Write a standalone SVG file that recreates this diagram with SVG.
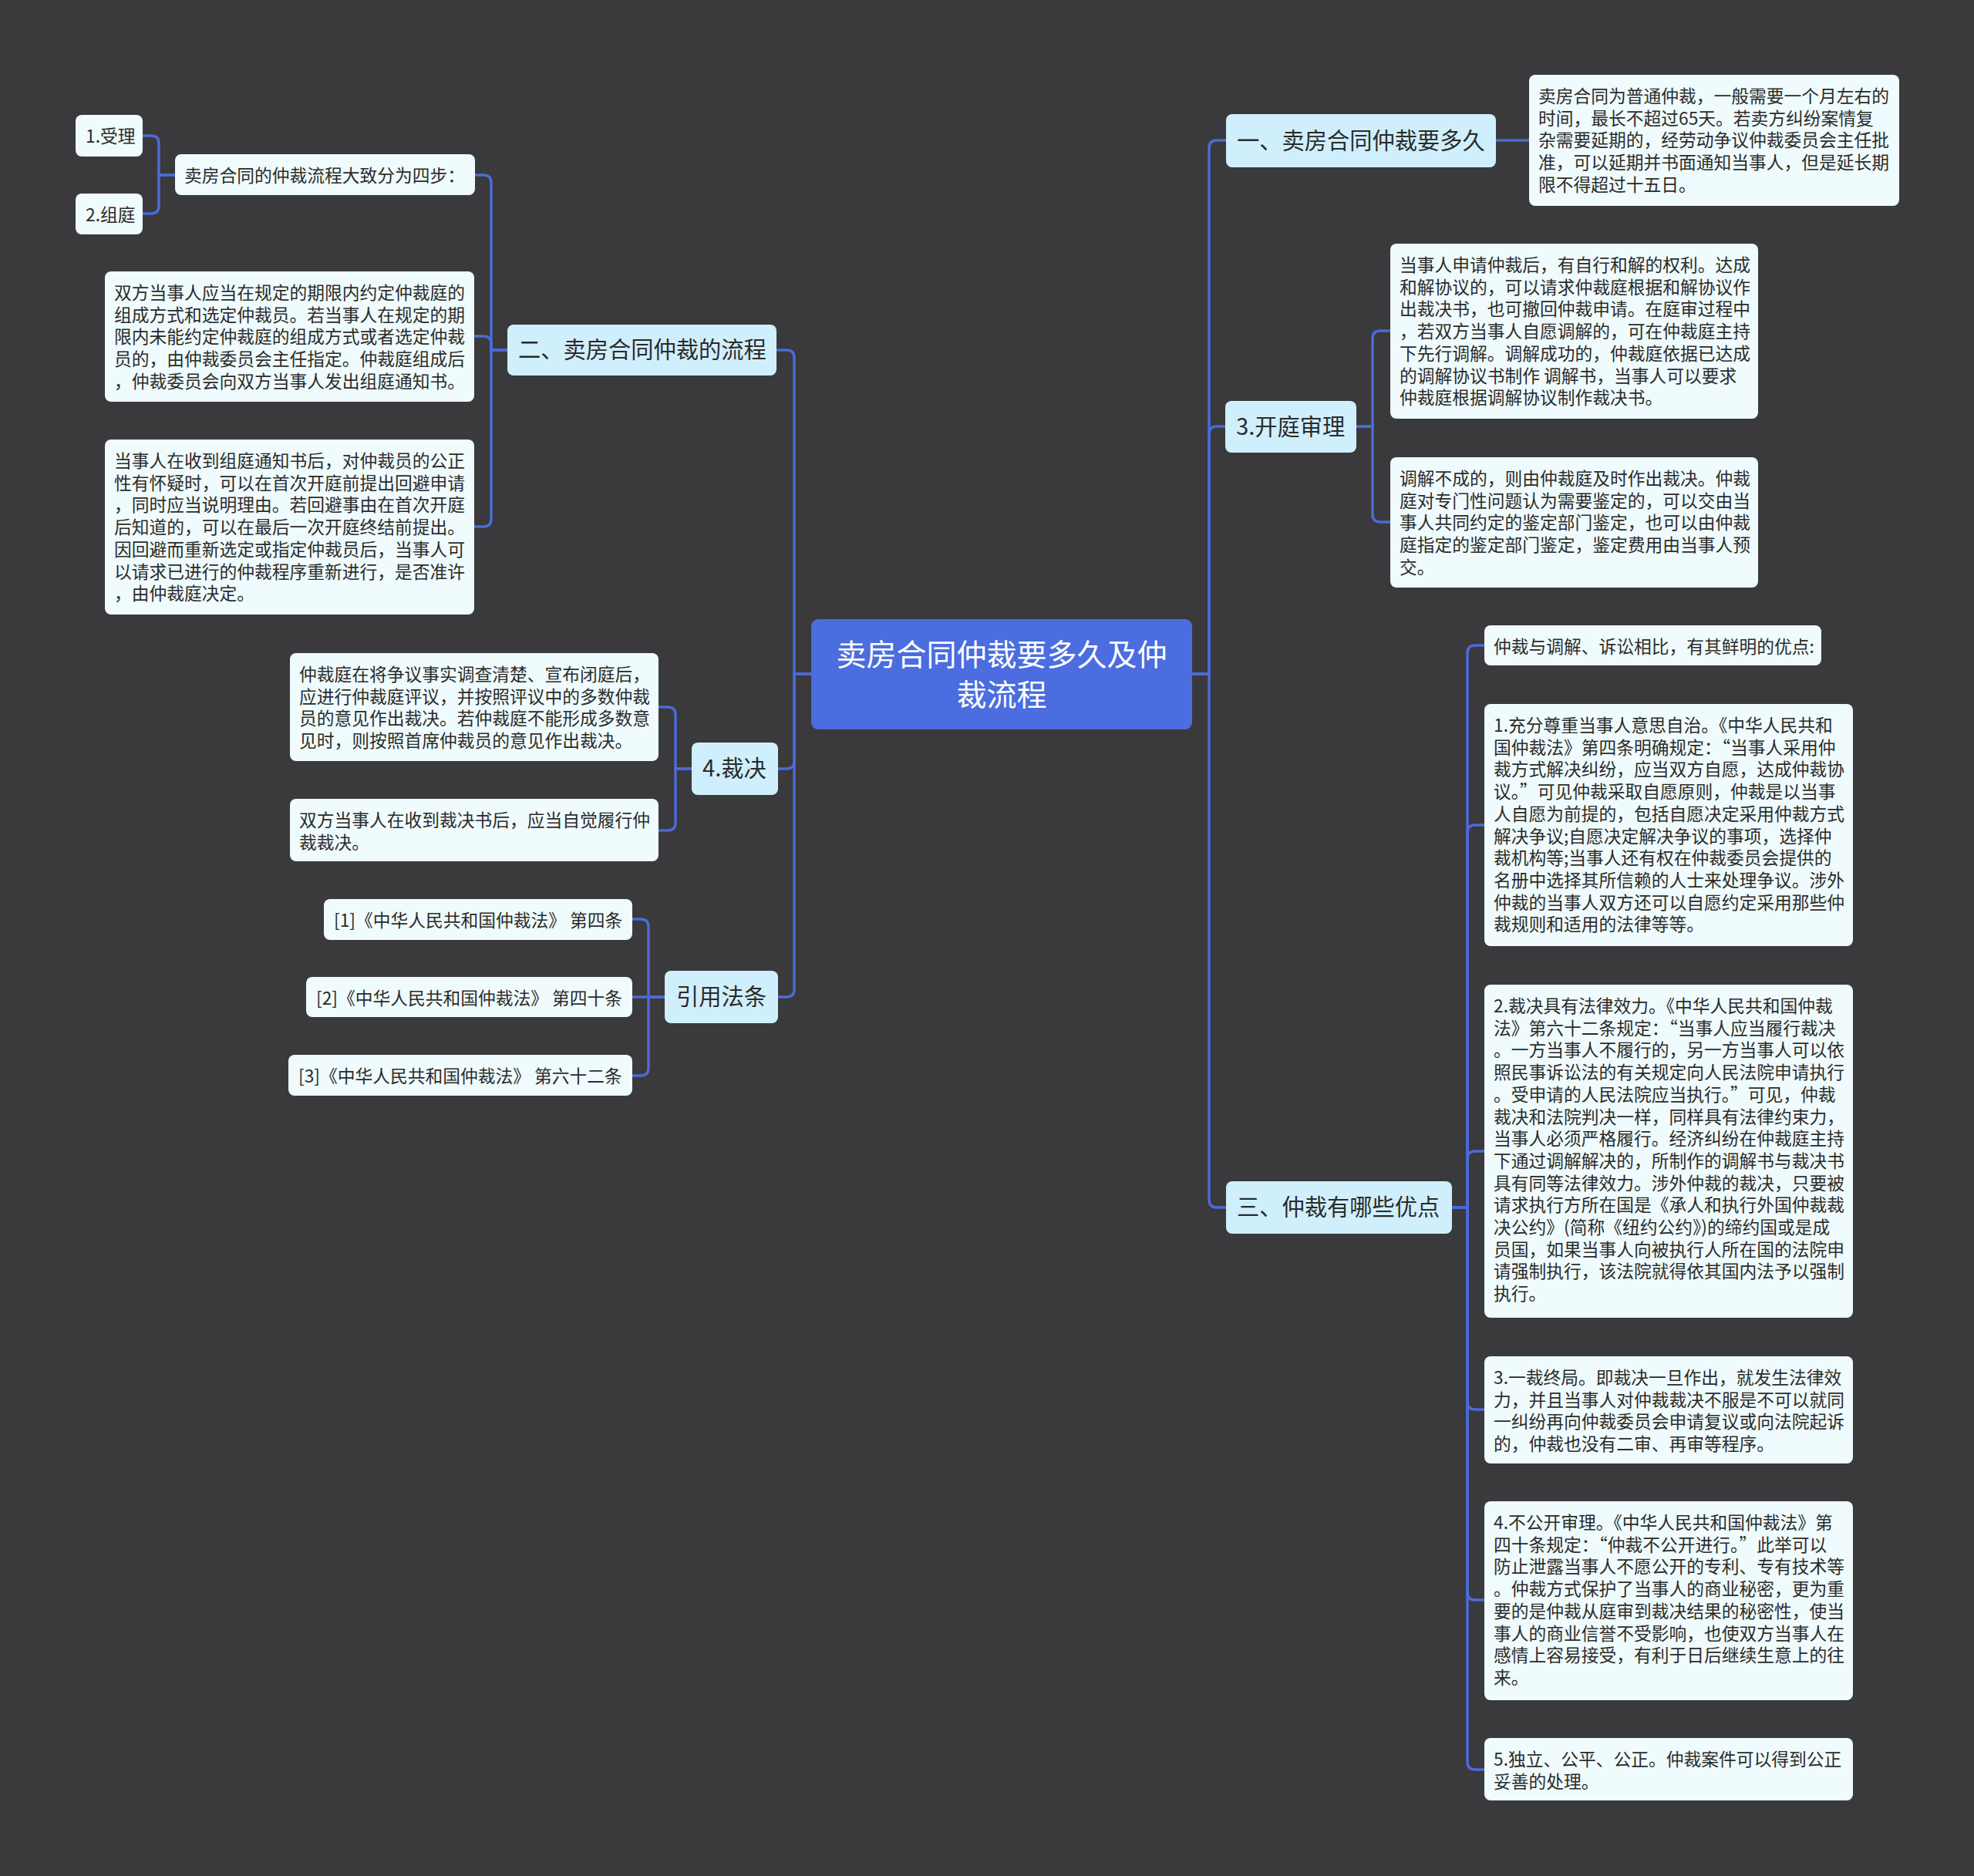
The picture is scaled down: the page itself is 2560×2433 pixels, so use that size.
<svg xmlns="http://www.w3.org/2000/svg" width="2560" height="2433" viewBox="0 0 2560 2433">
<style>
.bg{fill:#3a393b}
.root{fill:#4b6ddf}
.l1{fill:#d0effc}
.lf{fill:#effbfc}
.c{fill:none;stroke:#4c6bd6;stroke-width:3.5;stroke-linecap:round}
text{font-family:"Noto Sans CJK SC","Noto Sans",sans-serif;fill:#2b2b2b}
.rt{font-size:39px;fill:#ffffff;text-anchor:middle}
.t1{font-size:29.25px}
.t{font-size:22.75px}
</style>
<rect class="bg" x="0" y="0" width="2560" height="2433"/>
<g id="connectors">
<path class="c" d="M1052 874 H1030 V464 Q1030 454 1020 454 H1007"/>
<path class="c" d="M1052 874 H1030 V987 Q1030 997 1020 997 H1009"/>
<path class="c" d="M1052 874 H1030 V1283 Q1030 1293 1020 1293 H1009"/>
<path class="c" d="M1546 874 H1568 V192 Q1568 182 1578 182 H1590"/>
<path class="c" d="M1546 874 H1568 V563 Q1568 553 1578 553 H1589"/>
<path class="c" d="M1546 874 H1568 V1556 Q1568 1566 1578 1566 H1590"/>
<path class="c" d="M658 454 H637 V237 Q637 227 627 227 H616"/>
<path class="c" d="M658 454 H637 V446 Q637 436 627 436 H615"/>
<path class="c" d="M658 454 H637 V673 Q637 683 627 683 H615"/>
<path class="c" d="M227 227 H206 V186 Q206 176 196 176 H185"/>
<path class="c" d="M227 227 H206 V267 Q206 277 196 277 H185"/>
<path class="c" d="M897 997 H876 V927 Q876 917 866 917 H854"/>
<path class="c" d="M897 997 H876 V1067 Q876 1077 866 1077 H854"/>
<path class="c" d="M862 1293 H841 V1202 Q841 1192 831 1192 H820"/>
<path class="c" d="M862 1293 H820"/>
<path class="c" d="M862 1293 H841 V1385 Q841 1395 831 1395 H820"/>
<path class="c" d="M1940 182 H1983"/>
<path class="c" d="M1759 553 H1780 V439 Q1780 429 1790 429 H1803"/>
<path class="c" d="M1759 553 H1780 V667 Q1780 677 1790 677 H1803"/>
<path class="c" d="M1883 1566 H1903 V847 Q1903 837 1913 837 H1925"/>
<path class="c" d="M1883 1566 H1903 V1080 Q1903 1070 1913 1070 H1925"/>
<path class="c" d="M1883 1566 H1903 V1503 Q1903 1493 1913 1493 H1925"/>
<path class="c" d="M1883 1566 H1903 V1818 Q1903 1828 1913 1828 H1925"/>
<path class="c" d="M1883 1566 H1903 V2065 Q1903 2075 1913 2075 H1925"/>
<path class="c" d="M1883 1566 H1903 V2285 Q1903 2295 1913 2295 H1925"/>
</g>
<g id="root">
<rect class="root" x="1052" y="803" width="494" height="143" rx="9"/>
<text class="rt" x="1299" y="863">卖房合同仲裁要多久及仲</text>
<text class="rt" x="1299" y="915">裁流程</text>
</g>
<g id="n-er">
<rect class="l1" x="658" y="421" width="349" height="66" rx="8"/>
<text class="t1" x="672" y="464">二、卖房合同仲裁的流程</text>
</g>
<g id="n-sibu">
<rect class="lf" x="227" y="200" width="389" height="53" rx="8"/>
<text class="t" x="239" y="236">卖房合同的仲裁流程大致分为四步：</text>
</g>
<g id="n-shouli">
<rect class="lf" x="98" y="149" width="87" height="54" rx="8"/>
<text class="t" x="111" y="185">1.受理</text>
</g>
<g id="n-zuting">
<rect class="lf" x="98" y="251" width="87" height="53" rx="8"/>
<text class="t" x="111" y="287">2.组庭</text>
</g>
<g id="n-a">
<rect class="lf" x="136" y="352" width="479" height="169" rx="8"/>
<text class="t" x="148" y="388"><tspan x="148">双方当事人应当在规定的期限内约定仲裁庭的</tspan><tspan x="148" dy="28.7">组成方式和选定仲裁员。若当事人在规定的期</tspan><tspan x="148" dy="28.7">限内未能约定仲裁庭的组成方式或者选定仲裁</tspan><tspan x="148" dy="28.7">员的，由仲裁委员会主任指定。仲裁庭组成后</tspan><tspan x="148" dy="28.7">，仲裁委员会向双方当事人发出组庭通知书。</tspan></text>
</g>
<g id="n-b">
<rect class="lf" x="136" y="570" width="479" height="227" rx="8"/>
<text class="t" x="148" y="606"><tspan x="148">当事人在收到组庭通知书后，对仲裁员的公正</tspan><tspan x="148" dy="28.7">性有怀疑时，可以在首次开庭前提出回避申请</tspan><tspan x="148" dy="28.7">，同时应当说明理由。若回避事由在首次开庭</tspan><tspan x="148" dy="28.7">后知道的，可以在最后一次开庭终结前提出。</tspan><tspan x="148" dy="28.7">因回避而重新选定或指定仲裁员后，当事人可</tspan><tspan x="148" dy="28.7">以请求已进行的仲裁程序重新进行，是否准许</tspan><tspan x="148" dy="28.7">，由仲裁庭决定。</tspan></text>
</g>
<g id="n-caijue">
<rect class="l1" x="897" y="963" width="112" height="68" rx="8"/>
<text class="t1" x="911" y="1007">4.裁决</text>
</g>
<g id="n-c">
<rect class="lf" x="376" y="847" width="478" height="140" rx="8"/>
<text class="t" x="388" y="883"><tspan x="388">仲裁庭在将争议事实调查清楚、宣布闭庭后，</tspan><tspan x="388" dy="28.7">应进行仲裁庭评议，并按照评议中的多数仲裁</tspan><tspan x="388" dy="28.7">员的意见作出裁决。若仲裁庭不能形成多数意</tspan><tspan x="388" dy="28.7">见时，则按照首席仲裁员的意见作出裁决。</tspan></text>
</g>
<g id="n-d">
<rect class="lf" x="376" y="1036" width="478" height="81" rx="8"/>
<text class="t" x="388" y="1072"><tspan x="388">双方当事人在收到裁决书后，应当自觉履行仲</tspan><tspan x="388" dy="28.7">裁裁决。</tspan></text>
</g>
<g id="n-yinyong">
<rect class="l1" x="862" y="1259" width="147" height="68" rx="8"/>
<text class="t1" x="877" y="1303">引用法条</text>
</g>
<g id="n-f1">
<rect class="lf" x="420" y="1166" width="400" height="53" rx="8"/>
<text class="t" x="433" y="1202">[1]《中华人民共和国仲裁法》 第四条</text>
</g>
<g id="n-f2">
<rect class="lf" x="397" y="1267" width="423" height="52" rx="8"/>
<text class="t" x="410" y="1303">[2]《中华人民共和国仲裁法》 第四十条</text>
</g>
<g id="n-f3">
<rect class="lf" x="374" y="1368" width="446" height="53" rx="8"/>
<text class="t" x="387" y="1404">[3]《中华人民共和国仲裁法》 第六十二条</text>
</g>
<g id="n-yi">
<rect class="l1" x="1590" y="148" width="350" height="69" rx="8"/>
<text class="t1" x="1604" y="193">一、卖房合同仲裁要多久</text>
</g>
<g id="n-yi-t">
<rect class="lf" x="1983" y="97" width="480" height="170" rx="8"/>
<text class="t" x="1995" y="133"><tspan x="1995">卖房合同为普通仲裁，一般需要一个月左右的</tspan><tspan x="1995" dy="28.7">时间，最长不超过65天。若卖方纠纷案情复</tspan><tspan x="1995" dy="28.7">杂需要延期的，经劳动争议仲裁委员会主任批</tspan><tspan x="1995" dy="28.7">准，可以延期并书面通知当事人，但是延长期</tspan><tspan x="1995" dy="28.7">限不得超过十五日。</tspan></text>
</g>
<g id="n-kaiting">
<rect class="l1" x="1589" y="520" width="170" height="67" rx="8"/>
<text class="t1" x="1603" y="564">3.开庭审理</text>
</g>
<g id="n-e">
<rect class="lf" x="1803" y="316" width="477" height="227" rx="8"/>
<text class="t" x="1815" y="352"><tspan x="1815">当事人申请仲裁后，有自行和解的权利。达成</tspan><tspan x="1815" dy="28.7">和解协议的，可以请求仲裁庭根据和解协议作</tspan><tspan x="1815" dy="28.7">出裁决书，也可撤回仲裁申请。在庭审过程中</tspan><tspan x="1815" dy="28.7">，若双方当事人自愿调解的，可在仲裁庭主持</tspan><tspan x="1815" dy="28.7">下先行调解。调解成功的，仲裁庭依据已达成</tspan><tspan x="1815" dy="28.7">的调解协议书制作 调解书，当事人可以要求</tspan><tspan x="1815" dy="28.7">仲裁庭根据调解协议制作裁决书。</tspan></text>
</g>
<g id="n-f">
<rect class="lf" x="1803" y="593" width="477" height="169" rx="8"/>
<text class="t" x="1815" y="629"><tspan x="1815">调解不成的，则由仲裁庭及时作出裁决。仲裁</tspan><tspan x="1815" dy="28.7">庭对专门性问题认为需要鉴定的，可以交由当</tspan><tspan x="1815" dy="28.7">事人共同约定的鉴定部门鉴定，也可以由仲裁</tspan><tspan x="1815" dy="28.7">庭指定的鉴定部门鉴定，鉴定费用由当事人预</tspan><tspan x="1815" dy="28.7">交。</tspan></text>
</g>
<g id="n-san">
<rect class="l1" x="1590" y="1532" width="293" height="68" rx="8"/>
<text class="t1" x="1604" y="1576">三、仲裁有哪些优点</text>
</g>
<g id="n-youdian">
<rect class="lf" x="1925" y="811" width="437" height="52" rx="8"/>
<text class="t" x="1937" y="847">仲裁与调解、诉讼相比，有其鲜明的优点:</text>
</g>
<g id="n-p1">
<rect class="lf" x="1925" y="913" width="478" height="314" rx="8"/>
<text class="t" x="1937" y="949"><tspan x="1937">1.充分尊重当事人意思自治。《中华人民共和</tspan><tspan x="1937" dy="28.7">国仲裁法》第四条明确规定：“当事人采用仲</tspan><tspan x="1937" dy="28.7">裁方式解决纠纷，应当双方自愿，达成仲裁协</tspan><tspan x="1937" dy="28.7">议。”可见仲裁采取自愿原则，仲裁是以当事</tspan><tspan x="1937" dy="28.7">人自愿为前提的，包括自愿决定采用仲裁方式</tspan><tspan x="1937" dy="28.7">解决争议;自愿决定解决争议的事项，选择仲</tspan><tspan x="1937" dy="28.7">裁机构等;当事人还有权在仲裁委员会提供的</tspan><tspan x="1937" dy="28.7">名册中选择其所信赖的人士来处理争议。涉外</tspan><tspan x="1937" dy="28.7">仲裁的当事人双方还可以自愿约定采用那些仲</tspan><tspan x="1937" dy="28.7">裁规则和适用的法律等等。</tspan></text>
</g>
<g id="n-p2">
<rect class="lf" x="1925" y="1277" width="478" height="432" rx="8"/>
<text class="t" x="1937" y="1313"><tspan x="1937">2.裁决具有法律效力。《中华人民共和国仲裁</tspan><tspan x="1937" dy="28.7">法》第六十二条规定：“当事人应当履行裁决</tspan><tspan x="1937" dy="28.7">。一方当事人不履行的，另一方当事人可以依</tspan><tspan x="1937" dy="28.7">照民事诉讼法的有关规定向人民法院申请执行</tspan><tspan x="1937" dy="28.7">。受申请的人民法院应当执行。”可见，仲裁</tspan><tspan x="1937" dy="28.7">裁决和法院判决一样，同样具有法律约束力，</tspan><tspan x="1937" dy="28.7">当事人必须严格履行。经济纠纷在仲裁庭主持</tspan><tspan x="1937" dy="28.7">下通过调解解决的，所制作的调解书与裁决书</tspan><tspan x="1937" dy="28.7">具有同等法律效力。涉外仲裁的裁决，只要被</tspan><tspan x="1937" dy="28.7">请求执行方所在国是《承人和执行外国仲裁裁</tspan><tspan x="1937" dy="28.7">决公约》(简称《纽约公约》)的缔约国或是成</tspan><tspan x="1937" dy="28.7">员国，如果当事人向被执行人所在国的法院申</tspan><tspan x="1937" dy="28.7">请强制执行，该法院就得依其国内法予以强制</tspan><tspan x="1937" dy="28.7">执行。</tspan></text>
</g>
<g id="n-p3">
<rect class="lf" x="1925" y="1759" width="478" height="139" rx="8"/>
<text class="t" x="1937" y="1795"><tspan x="1937">3.一裁终局。即裁决一旦作出，就发生法律效</tspan><tspan x="1937" dy="28.7">力，并且当事人对仲裁裁决不服是不可以就同</tspan><tspan x="1937" dy="28.7">一纠纷再向仲裁委员会申请复议或向法院起诉</tspan><tspan x="1937" dy="28.7">的，仲裁也没有二审、再审等程序。</tspan></text>
</g>
<g id="n-p4">
<rect class="lf" x="1925" y="1947" width="478" height="258" rx="8"/>
<text class="t" x="1937" y="1983"><tspan x="1937">4.不公开审理。《中华人民共和国仲裁法》第</tspan><tspan x="1937" dy="28.7">四十条规定：“仲裁不公开进行。”此举可以</tspan><tspan x="1937" dy="28.7">防止泄露当事人不愿公开的专利、专有技术等</tspan><tspan x="1937" dy="28.7">。仲裁方式保护了当事人的商业秘密，更为重</tspan><tspan x="1937" dy="28.7">要的是仲裁从庭审到裁决结果的秘密性，使当</tspan><tspan x="1937" dy="28.7">事人的商业信誉不受影响，也使双方当事人在</tspan><tspan x="1937" dy="28.7">感情上容易接受，有利于日后继续生意上的往</tspan><tspan x="1937" dy="28.7">来。</tspan></text>
</g>
<g id="n-p5">
<rect class="lf" x="1925" y="2254" width="478" height="81" rx="8"/>
<text class="t" x="1937" y="2290"><tspan x="1937">5.独立、公平、公正。仲裁案件可以得到公正</tspan><tspan x="1937" dy="28.7">妥善的处理。</tspan></text>
</g>
</svg>
